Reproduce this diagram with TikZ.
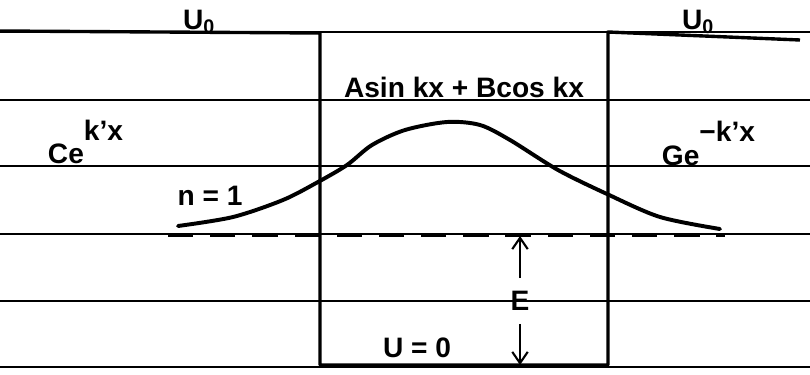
\documentclass[tikz,border=0pt]{standalone}
\usepackage{fontspec}
\setmainfont{Liberation Sans}
\usetikzlibrary{arrows.meta}
\tikzset{
  lbl/.style={font=\fontsize{20}{24}\selectfont\bfseries, inner sep=1pt},
  ruled/.style={line width=0.9pt},
  wall/.style={line width=2.4pt, line join=round},
  wave/.style={line width=2.8pt, line cap=round},
  level/.style={line width=3pt, dash pattern=on 18pt off 12pt},
}
\begin{document}
\begin{tikzpicture}[x=0.025cm, y=-0.025cm, >={Straight Barb[length=8pt,width=11pt]}, thick]
\useasboundingbox (0,0) rectangle (810,375);
\foreach \y in {32,100,166,234,301,367} \draw[ruled] (0,\y)--(810,\y);
\draw[wall] (0,31)--(320,33)--(320,365)--(608,365)--(608,32)--(800,40);
\draw[level] (168,235)--(725,235);
\draw[wave] plot[smooth] coordinates {(178,226) (233,217) (283,200) (318,182) (347,165) (372,145) (405,130) (447,122) (480,125) (510,140) (558,170) (607,194) (660,217) (720,229)};
\node[lbl, anchor=base](U1) at (199,29){U\textsubscript{0}};
\node[lbl, anchor=base](U2) at (698,29){U\textsubscript{0}};
\node[lbl, anchor=base](S) at (464,97){Asin kx + Bcos kx};
\node[lbl, anchor=base west](C) at (46,163){Ce\raisebox{16pt}{k’x}};
\node[lbl, anchor=base west](G) at (660,165){Ge\raisebox{17pt}{−k’x}};
\node[lbl, anchor=base](N) at (210,205){n = 1};
\node[lbl, anchor=base](Z) at (417,357){U = 0};
\node[lbl](E) at (520,301){E};
\coordinate (Et) at (520,236);
\coordinate (Eb) at (520,365);
\draw[->, line width=1.5pt, shorten <=8pt](E)--(Et);
\draw[->, line width=1.5pt, shorten <=8pt](E)--(Eb);
\end{tikzpicture}
\end{document}
